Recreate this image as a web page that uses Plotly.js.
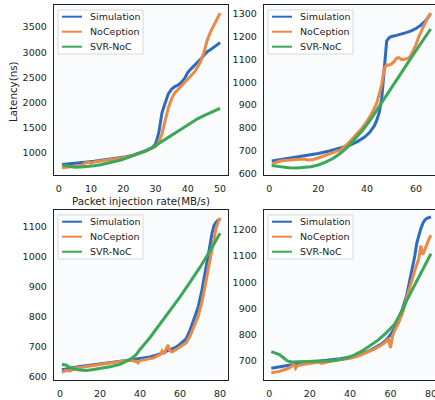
<!DOCTYPE html>
<html><head><meta charset="utf-8">
<script src="https://cdn.plot.ly/plotly-3.0.1.min.js"></script>
<style>html,body{margin:0;padding:0;overflow:hidden;background:#fff;width:435px;height:400px}#c{width:445px;height:400px}</style>
</head><body><div id="c"></div>
<script>
// ---------- data ----------
var seriesNames = ["Simulation", "NoCeption", "SVR-NoC"];
var colors = ["#2b6cc0", "#eb8948", "#3aa856"];

// Panel 1 (top-left)
var p1SimX = [1,3,5,7,9,11,13,15,17,19,21,23,25,27,29,30,31,32,33,34,35,36,37,38,39,40,41,42,43,44,45,46,47,48,49,50];
var p1SimY = [775,785,795,810,825,840,855,870,885,905,930,960,1000,1050,1110,1180,1400,1800,2000,2180,2270,2320,2350,2400,2480,2600,2670,2730,2790,2865,2940,3010,3050,3100,3150,3190];
var p1NocX = [1,3,5,7,9,10,11,13,15,17,19,21,23,25,27,29,30,31,32,33,34,35,36,37,38,39,40,41,42,43,44,45,46,47,48,49,50];
var p1NocY = [712,720,740,760,830,800,825,845,860,875,895,920,950,990,1040,1100,1130,1220,1380,1650,1900,2080,2200,2260,2320,2400,2470,2540,2600,2700,2820,3000,3230,3400,3530,3660,3775];
var p1SvrX = [1,3,5,7,9,11,13,15,17,19,21,23,25,27,29,31,33,35,37,39,41,43,45,47,49,50];
var p1SvrY = [765,735,720,725,735,750,770,795,825,860,900,945,990,1045,1110,1190,1280,1365,1445,1525,1605,1680,1745,1805,1860,1885];

// Panel 2 (top-right)
var p2SimX = [1,5,10,15,20,25,30,33,36,39,41,43,44,45,46,47,48,49,50,52,54,56,58,60,62,64,66];
var p2SimY = [655,662,670,678,688,700,715,725,740,760,780,810,835,870,930,1040,1180,1195,1200,1205,1210,1217,1225,1235,1250,1270,1300];
var p2NocX = [1,3,5,8,11,14,16,18,20,22,24,26,28,29,30,32,34,36,38,40,42,44,45,46,47,48,49,50,51,52,53,54,55,56,57,58,59,60,61,62,63,64,65,66];
var p2NocY = [640,650,656,660,662,664,660,662,668,676,684,692,700,698,712,730,752,774,800,830,865,910,945,990,1060,1075,1075,1080,1090,1105,1108,1100,1100,1102,1105,1120,1140,1165,1195,1220,1245,1265,1285,1303];
var p2SvrX = [1,3,5,8,11,14,17,20,23,26,29,32,35,38,41,44,47,50,53,56,59,62,66];
var p2SvrY = [635,632,628,626,625,626,630,638,650,666,688,716,750,788,830,880,928,977,1026,1074,1123,1171,1233];

// Panel 3 (bottom-left)
var p3SimX = [1,5,10,15,20,25,30,35,40,45,50,55,58,60,63,65,67,69,71,73,75,76,77,78,79,80];
var p3SimY = [622,628,633,637,641,645,650,655,660,665,675,688,698,708,725,755,790,830,890,960,1040,1080,1105,1115,1122,1125];
var p3NocX = [1,3,5,8,10,13,16,20,25,30,35,38,39,40,42,45,47,49,50,51,52,53,54,55,56,57,58,60,63,65,67,69,71,73,75,77,78,79,80];
var p3NocY = [613,620,618,628,630,633,636,640,645,650,655,650,645,653,656,660,662,670,672,685,675,690,705,685,682,686,690,700,712,735,765,800,850,915,990,1060,1095,1115,1130];
var p3SvrX = [1,3,5,7,10,13,16,20,25,30,35,38,40,45,50,55,60,65,70,75,80];
var p3SvrY = [640,638,630,625,621,620,622,626,632,640,657,672,690,730,775,818,866,915,965,1020,1078];

// Panel 4 (bottom-right)
var p4SimX = [1,5,10,15,20,25,30,35,40,45,50,55,58,60,62,64,66,68,70,71,72,73,74,75,76,77,78,79,80];
var p4SimY = [672,677,685,692,697,700,704,708,715,724,740,762,780,800,825,860,900,950,1020,1060,1100,1150,1180,1205,1225,1238,1244,1248,1250];
var p4NocX = [1,3,5,7,9,11,12,13,14,16,18,20,22,24,26,28,30,33,36,40,44,48,52,55,57,58,59,60,61,62,64,66,68,70,72,74,75,76,77,78,79,80];
var p4NocY = [655,657,660,665,670,678,690,672,682,685,688,690,692,695,690,695,698,702,705,710,718,730,745,758,768,775,782,750,795,815,845,885,940,995,1045,1090,1140,1105,1125,1150,1165,1180];
var p4SvrX = [1,3,5,7,9,11,14,18,22,26,30,34,38,42,46,50,54,58,62,64,66,68,70,72,74,76,78,80];
var p4SvrY = [735,730,724,712,700,696,697,700,700,700,700,703,710,722,738,758,780,808,840,868,895,930,960,995,1025,1055,1082,1109];

// tick labels
var p1XTicks = [0,10,20,30,40,50];
var p1YTicks = [1000,1500,2000,2500,3000,3500];
var p2XTicks = [0,20,40,60];
var p2YTicks = [600,700,800,900,1000,1100,1200,1300];
var p3XTicks = [0,20,40,60,80];
var p3YTicks = [600,700,800,900,1000,1100];
var p4XTicks = [0,20,40,60,80];
var p4YTicks = [700,800,900,1000,1100,1200];

var xTitle = "Packet injection rate(MB/s)";
var yTitle = "Latency(ns)";

// ---------- layout ----------
var W = 445, H = 400;
function px(x){return x/W;}
function py(y){return 1 - y/H;}

var panels = [
  {sx:p1SimX, sy:p1SimY, nx:p1NocX, ny:p1NocY, vx:p1SvrX, vy:p1SvrY, L:54, T:5, xr:[-1.45,52.45], yr:[567,3935], xt:p1XTicks, yt:p1YTicks},
  {sx:p2SimX, sy:p2SimY, nx:p2NocX, ny:p2NocY, vx:p2SvrX, vy:p2SvrY, L:264, T:5, xr:[-2.17,69.0], yr:[594,1338], xt:p2XTicks, yt:p2YTicks},
  {sx:p3SimX, sy:p3SimY, nx:p3NocX, ny:p3NocY, vx:p3SvrX, vy:p3SvrY, L:54, T:210, xr:[-2.95,83.95], yr:[588,1156], xt:p3XTicks, yt:p3YTicks},
  {sx:p4SimX, sy:p4SimY, nx:p4NocX, ny:p4NocY, vx:p4SvrX, vy:p4SvrY, L:264, T:210, xr:[-2.62,83.5], yr:[627,1276], xt:p4XTicks, yt:p4YTicks}
];
var PW = 174, PH = 170;
var font = {family:"DejaVu Sans, sans-serif", size:9.5, color:"#222"};

var data = [];
var layout = {
  width: W, height: H, margin:{l:0,r:0,t:0,b:0},
  paper_bgcolor:"#ffffff", plot_bgcolor:"#fafbfd",
  showlegend:false, font:font, shapes:[], annotations:[]
};

panels.forEach(function(p, i){
  var n = i+1;
  var xa = "x"+(n===1?"":n), ya = "y"+(n===1?"":n);
  var sets = [[p.sx,p.sy],[p.nx,p.ny],[p.vx,p.vy]];
  sets.forEach(function(s, k){
    data.push({x:s[0], y:s[1], type:"scatter", mode:"lines", name:seriesNames[k],
      xaxis:xa, yaxis:ya, line:{color:colors[k], width:3, shape:"linear"}, hoverinfo:"skip"});
  });
  var axCommon = {showgrid:false, zeroline:false, showline:true, mirror:true, linecolor:"#222", linewidth:1.3,
    ticks:"outside", ticklen:4, tickcolor:"rgba(0,0,0,0)", tickfont:font, fixedrange:true};
  layout["xaxis"+(n===1?"":n)] = Object.assign({}, axCommon, {
    domain:[px(p.L), px(p.L+PW)], range:p.xr, tickvals:p.xt, ticktext:p.xt.map(String),
    anchor:ya});
  layout["yaxis"+(n===1?"":n)] = Object.assign({}, axCommon, {
    domain:[py(p.T+PH), py(p.T)], range:p.yr, tickvals:p.yt, ticktext:p.yt.map(String),
    anchor:xa});
  // legend box
  layout.shapes.push({type:"rect", xref:"paper", yref:"paper",
    x0:px(p.L+4), x1:px(p.L+89), y0:py(p.T+49), y1:py(p.T+5),
    line:{color:"#d8d8d8", width:1}, fillcolor:"rgba(255,255,255,0.85)", layer:"above"});
  seriesNames.forEach(function(nm, k){
    var yy = p.T + 11.7 + 15*k;
    layout.shapes.push({type:"line", xref:"paper", yref:"paper",
      x0:px(p.L+8), x1:px(p.L+28), y0:py(yy), y1:py(yy),
      line:{color:colors[k], width:2}, layer:"above"});
    layout.annotations.push({xref:"paper", yref:"paper", x:px(p.L+34), y:py(yy),
      xanchor:"left", yanchor:"middle", text:nm, showarrow:false, font:font});
  });
});

// axis titles on panel 1 only
layout.annotations.push({xref:"paper", yref:"paper", x:px(54+PW/2), y:py(201), xanchor:"center", yanchor:"middle",
  text:xTitle, showarrow:false, font:{family:font.family, size:10.3, color:"#222"}});
layout.annotations.push({xref:"paper", yref:"paper", x:px(13), y:py(92), xanchor:"center", yanchor:"middle",
  text:yTitle, textangle:-90, showarrow:false, font:{family:font.family, size:10.3, color:"#222"}});

Plotly.newPlot("c", data, layout, {staticPlot:true, displayModeBar:false});
</script>
</body></html>
